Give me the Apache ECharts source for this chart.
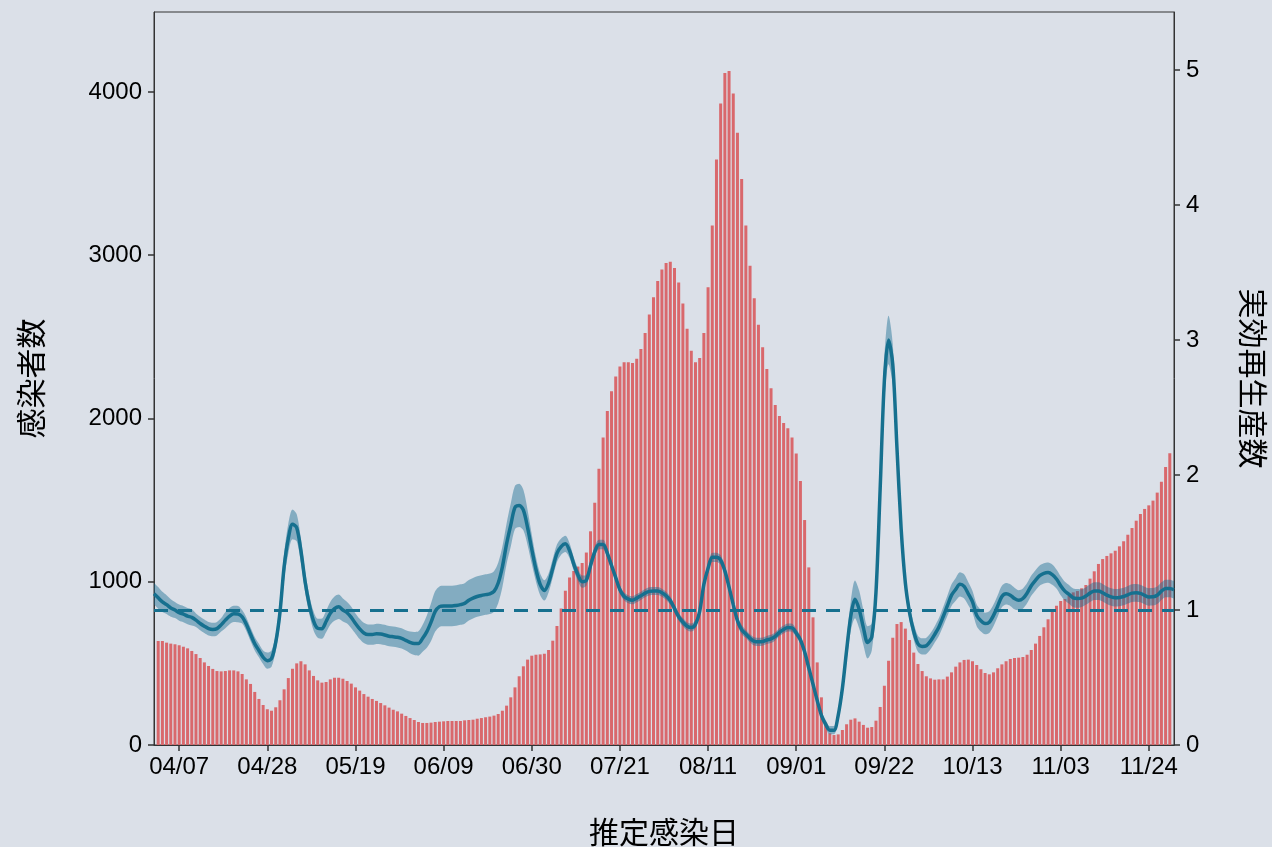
<!DOCTYPE html>
<html>
<head>
<meta charset="utf-8">
<title>推定感染日</title>
<script src="https://cdn.jsdelivr.net/npm/echarts@6/dist/echarts.min.js"></script>
<style>
  html, body { margin: 0; padding: 0; background: #dbe0e8; }
  #chart { width: 1272px; height: 847px; }
</style>
</head>
<body>
<div id="chart"></div>
<script>
// x range: 04/01 .. 11/30 (one category per day)
const firstDay = [4, 1];
const lastDay = [11, 30];
const tickLabels = ['04/07', '04/28', '05/19', '06/09', '06/30', '07/21', '08/11', '09/01', '09/22', '10/13', '11/03', '11/24'];
const leftTicks = [0, 1000, 2000, 3000, 4000];
const rightTicks = [0, 1, 2, 3, 4, 5];

// daily infections, 04/02 .. 11/29
const casesApr = [637, 637, 627, 621, 617, 611, 602, 592, 576, 557, 533, 506, 484, 466, 453, 451, 453, 457, 457, 451, 435, 402, 374, 325, 282, 245, 219, 210, 231];
const casesMay = [274, 341, 410, 467, 500, 513, 494, 457, 423, 396, 382, 386, 402, 412, 412, 406, 392, 376, 353, 333, 312, 296, 282, 270, 257, 243, 229, 216, 206, 192, 178];
const casesJun = [165, 153, 141, 135, 135, 137, 141, 143, 145, 147, 147, 147, 147, 151, 153, 155, 161, 165, 170, 174, 180, 190, 210, 241, 292, 353, 421, 482, 523, 547];
const casesJul = [553, 555, 559, 582, 639, 729, 836, 945, 1026, 1066, 1093, 1115, 1179, 1309, 1484, 1692, 1884, 2046, 2167, 2258, 2318, 2345, 2345, 2340, 2366, 2426, 2524, 2637, 2742, 2842, 2912];
const casesAug = [2953, 2960, 2922, 2833, 2704, 2550, 2415, 2345, 2370, 2524, 2804, 3182, 3586, 3929, 4116, 4129, 3991, 3751, 3467, 3182, 2936, 2736, 2574, 2437, 2303, 2185, 2083, 2015, 1972, 1940, 1883];
const casesSep = [1785, 1617, 1378, 1088, 782, 506, 292, 137, 71, 61, 65, 92, 127, 155, 163, 143, 123, 106, 110, 149, 233, 363, 516, 657, 741, 753, 713, 643, 566, 496];
const casesOct = [453, 421, 408, 400, 402, 402, 419, 445, 480, 506, 521, 523, 513, 490, 464, 441, 433, 445, 470, 494, 513, 527, 533, 535, 539, 553, 582, 621, 668, 721, 770];
const casesNov = [817, 853, 882, 894, 913, 935, 943, 960, 980, 1019, 1064, 1109, 1139, 1158, 1174, 1190, 1217, 1248, 1288, 1329, 1374, 1415, 1446, 1468, 1497, 1546, 1613, 1703, 1787];

// effective reproduction number, 04/01 .. 11/30
const rt = [
  1.12, 1.09, 1.06, 1.04, 1.015, 1.0, 0.98, 0.97, 0.955, 0.945,
  0.925, 0.90, 0.88, 0.862, 0.856, 0.862, 0.89, 0.925, 0.955, 0.972,
  0.97, 0.95, 0.895, 0.82, 0.75, 0.70, 0.65, 0.625, 0.64, 0.76,
  0.98, 1.32, 1.53, 1.635, 1.61, 1.44, 1.21, 1.04, 0.92, 0.865,
  0.862, 0.915, 0.975, 1.01, 1.024, 1.0, 0.98, 0.945, 0.90, 0.86,
  0.83, 0.818, 0.818, 0.824, 0.822, 0.815, 0.806, 0.802, 0.798, 0.79,
  0.775, 0.76, 0.752, 0.752, 0.79, 0.84, 0.91, 0.99, 1.025, 1.03,
  1.03, 1.03, 1.034, 1.04, 1.049, 1.072, 1.088, 1.10, 1.108, 1.114,
  1.12, 1.138, 1.20, 1.32, 1.49, 1.63, 1.76, 1.775, 1.74, 1.61,
  1.45, 1.30, 1.19, 1.145, 1.20, 1.31, 1.42, 1.47, 1.49, 1.44,
  1.34, 1.26, 1.21, 1.22, 1.33, 1.43, 1.485, 1.485, 1.42, 1.33,
  1.24, 1.15, 1.10, 1.08, 1.072, 1.088, 1.105, 1.125, 1.138, 1.141,
  1.141, 1.128, 1.105, 1.07, 1.01, 0.95, 0.91, 0.88, 0.87, 0.895,
  0.99, 1.19, 1.31, 1.39, 1.39, 1.37, 1.29, 1.17, 1.04, 0.92,
  0.855, 0.822, 0.79, 0.768, 0.764, 0.766, 0.778, 0.786, 0.805, 0.835,
  0.856, 0.87, 0.868, 0.83, 0.78, 0.69, 0.57, 0.45, 0.33, 0.22,
  0.155, 0.11, 0.11, 0.22, 0.42, 0.70, 0.955, 1.079, 1.004, 0.87,
  0.76, 0.80, 1.13, 1.90, 2.70, 3.00, 2.82, 2.20, 1.60, 1.20,
  0.98, 0.84, 0.75, 0.73, 0.735, 0.77, 0.82, 0.875, 0.95, 1.03,
  1.11, 1.153, 1.19, 1.175, 1.12, 1.06, 0.96, 0.92, 0.90, 0.91,
  0.96, 1.03, 1.10, 1.12, 1.11, 1.085, 1.072, 1.085, 1.125, 1.18,
  1.22, 1.255, 1.272, 1.277, 1.262, 1.23, 1.18, 1.14, 1.116, 1.09,
  1.086, 1.088, 1.104, 1.125, 1.14, 1.14, 1.128, 1.11, 1.097, 1.091,
  1.093, 1.10, 1.113, 1.125, 1.127, 1.123, 1.108, 1.097, 1.098, 1.109,
  1.14, 1.16, 1.16, 1.15
];

// half width of the Rt credible band, same days
const rtSpread = [
  0.08, 0.08, 0.075, 0.07, 0.065, 0.06, 0.06, 0.06, 0.06, 0.06,
  0.05, 0.05, 0.05, 0.05, 0.05, 0.05, 0.05, 0.06, 0.06, 0.06,
  0.06, 0.05, 0.05, 0.05, 0.05, 0.05, 0.05, 0.06, 0.06, 0.06,
  0.09, 0.10, 0.11, 0.11, 0.10, 0.09, 0.08, 0.07, 0.07, 0.07,
  0.075, 0.08, 0.085, 0.09, 0.09, 0.085, 0.08, 0.08, 0.075, 0.075,
  0.075, 0.075, 0.075, 0.075, 0.075, 0.075, 0.075, 0.075, 0.075, 0.075,
  0.075, 0.08, 0.085, 0.09, 0.10, 0.12, 0.14, 0.15, 0.15, 0.15,
  0.15, 0.15, 0.15, 0.15, 0.15, 0.15, 0.15, 0.15, 0.15, 0.15,
  0.15, 0.15, 0.15, 0.15, 0.15, 0.16, 0.16, 0.16, 0.15, 0.13,
  0.11, 0.09, 0.08, 0.075, 0.07, 0.07, 0.065, 0.06, 0.06, 0.055,
  0.05, 0.045, 0.045, 0.04, 0.04, 0.04, 0.035, 0.035, 0.035, 0.035,
  0.03, 0.03, 0.03, 0.03, 0.03, 0.03, 0.03, 0.03, 0.03, 0.03,
  0.03, 0.03, 0.03, 0.03, 0.03, 0.03, 0.03, 0.03, 0.03, 0.03,
  0.03, 0.035, 0.035, 0.035, 0.035, 0.035, 0.035, 0.035, 0.035, 0.035,
  0.035, 0.03, 0.03, 0.03, 0.03, 0.03, 0.03, 0.03, 0.03, 0.03,
  0.03, 0.03, 0.03, 0.03, 0.03, 0.03, 0.03, 0.03, 0.03, 0.03,
  0.03, 0.03, 0.03, 0.04, 0.06, 0.08, 0.11, 0.14, 0.14, 0.13,
  0.12, 0.10, 0.10, 0.13, 0.17, 0.18, 0.15, 0.10, 0.07, 0.06,
  0.06, 0.06, 0.06, 0.06, 0.06, 0.06, 0.06, 0.065, 0.07, 0.075,
  0.08, 0.085, 0.09, 0.09, 0.085, 0.08, 0.08, 0.08, 0.08, 0.08,
  0.08, 0.08, 0.08, 0.08, 0.08, 0.08, 0.075, 0.075, 0.075, 0.075,
  0.075, 0.075, 0.075, 0.075, 0.075, 0.07, 0.07, 0.07, 0.07, 0.07,
  0.07, 0.065, 0.065, 0.065, 0.065, 0.065, 0.065, 0.065, 0.065, 0.065,
  0.065, 0.065, 0.065, 0.065, 0.065, 0.065, 0.065, 0.065, 0.065, 0.065,
  0.065, 0.065, 0.065, 0.065
];

const rtThreshold = 1;

function pad2(n) { return (n < 10 ? '0' : '') + n; }

// category labels MM/DD
const days = [];
let d = new Date(2021, firstDay[0] - 1, firstDay[1]);
const end = new Date(2021, lastDay[0] - 1, lastDay[1]);
while (d <= end) {
  days.push(pad2(d.getMonth() + 1) + '/' + pad2(d.getDate()));
  d = new Date(d.getFullYear(), d.getMonth(), d.getDate() + 1);
}

const cases = [].concat(casesApr, casesMay, casesJun, casesJul, casesAug, casesSep, casesOct, casesNov);
const barData = ['-'].concat(cases, ['-']);
const rtLow = rt.map((v, i) => +(v - rtSpread[i]).toFixed(3));
const rtWidth = rtSpread.map(s => +(2 * s).toFixed(3));

const isTick = (idx, val) => tickLabels.indexOf(val) >= 0;

const latin = '"Liberation Sans", Arial, sans-serif';
const cjk = '"Noto Sans CJK JP", sans-serif';
const axisColor = '#333333';
const rtColor = '#16708f';

const myChart = echarts.init(document.getElementById('chart'));

const option = {
  backgroundColor: '#dbe0e8',
  animation: false,
  grid: {
    left: 154, right: 98, top: 12, bottom: 102,
    containLabel: false,
    outerBoundsMode: 'none',
    show: true, borderColor: axisColor, borderWidth: 1, backgroundColor: 'transparent'
  },
  xAxis: {
    type: 'category',
    data: days,
    boundaryGap: false,
    axisLine: { show: true, lineStyle: { color: axisColor, width: 1 } },
    axisTick: { show: true, interval: isTick, length: 6, lineStyle: { color: axisColor, width: 1.5 } },
    axisLabel: { interval: isTick, color: '#000', fontSize: 24, margin: 10, fontFamily: latin },
    splitLine: { show: false },
    name: '推定感染日',
    nameLocation: 'middle',
    nameGap: 72,
    nameTextStyle: { color: '#000', fontSize: 30, fontFamily: cjk }
  },
  yAxis: [
    {
      type: 'value',
      min: 0, max: 4490, interval: 1000,
      axisLine: { show: true, lineStyle: { color: axisColor, width: 1 } },
      axisTick: { show: true, length: 6, customValues: leftTicks, lineStyle: { color: axisColor, width: 1.5 } },
      axisLabel: { color: '#000', fontSize: 24, margin: 12, fontFamily: latin, customValues: leftTicks, formatter: v => String(v) },
      splitLine: { show: false },
      name: '感染者数',
      nameLocation: 'middle',
      nameRotate: 90,
      nameGap: 108,
      nameTextStyle: { color: '#000', fontSize: 30, fontFamily: cjk }
    },
    {
      type: 'value',
      position: 'right',
      min: 0, max: 5.43, interval: 1,
      axisLine: { show: true, lineStyle: { color: axisColor, width: 1 } },
      axisTick: { show: true, length: 6, customValues: rightTicks, lineStyle: { color: axisColor, width: 1.5 } },
      axisLabel: { color: '#000', fontSize: 24, margin: 12, fontFamily: latin, customValues: rightTicks, formatter: v => String(v) },
      splitLine: { show: false },
      name: '実効再生産数',
      nameLocation: 'middle',
      nameRotate: -90,
      nameGap: 64,
      nameTextStyle: { color: '#000', fontSize: 30, fontFamily: cjk }
    }
  ],
  series: [
    {
      name: '感染者数',
      type: 'bar',
      data: barData,
      barWidth: 3,
      itemStyle: { color: '#d9686c' },
      silent: true
    },
    {
      name: 'rt-low',
      type: 'line',
      yAxisIndex: 1,
      stack: 'ci',
      data: rtLow,
      symbol: 'none',
      smooth: 0.3,
      lineStyle: { opacity: 0 },
      silent: true
    },
    {
      name: 'rt-band',
      type: 'line',
      yAxisIndex: 1,
      stack: 'ci',
      data: rtWidth,
      symbol: 'none',
      smooth: 0.3,
      lineStyle: { opacity: 0 },
      areaStyle: { color: 'rgba(24,108,146,0.45)', opacity: 1 },
      silent: true
    },
    {
      name: '実効再生産数',
      type: 'line',
      yAxisIndex: 1,
      data: rt,
      symbol: 'none',
      smooth: 0.3,
      lineStyle: { color: rtColor, width: 3.5 },
      silent: true,
      markLine: {
        silent: true,
        symbol: 'none',
        label: { show: false },
        lineStyle: { color: rtColor, width: 3, type: [14, 10] },
        data: [{ yAxis: rtThreshold }]
      }
    }
  ]
};

myChart.setOption(option);
</script>
</body>
</html>
